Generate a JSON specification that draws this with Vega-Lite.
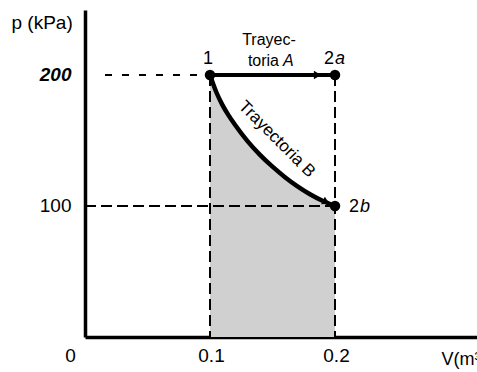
{
  "$schema": "https://vega.github.io/schema/vega-lite/v6.json",
  "width": 392,
  "height": 327,
  "autosize": {"type": "none"},
  "padding": {"left": 85, "top": 10, "right": 0, "bottom": 35},
  "background": "white",
  "config": {"view": {"stroke": null}, "font": "Liberation Sans"},
  "datasets": {
    "curveB": [
      {"V": 0.1, "p": 200}, {"V": 0.105, "p": 187}, {"V": 0.11, "p": 177},
      {"V": 0.115, "p": 169}, {"V": 0.12, "p": 162}, {"V": 0.13, "p": 149.5},
      {"V": 0.14, "p": 139}, {"V": 0.15, "p": 130}, {"V": 0.16, "p": 122},
      {"V": 0.17, "p": 115}, {"V": 0.18, "p": 109}, {"V": 0.19, "p": 104},
      {"V": 0.2, "p": 100}
    ],
    "dashShort": [{"V": 0.016, "V2": 0.1, "p": 200, "p2": 200}],
    "dashLong": [
      {"V": 0.0, "V2": 0.2, "p": 100, "p2": 100},
      {"V": 0.1, "V2": 0.1, "p": 200, "p2": 0},
      {"V": 0.2, "V2": 0.2, "p": 200, "p2": 0}
    ],
    "pathA": [{"V": 0.1, "V2": 0.2, "p": 200, "p2": 200}],
    "states": [
      {"V": 0.1, "p": 200, "state": "1"},
      {"V": 0.2, "p": 200, "state": "2a"},
      {"V": 0.2, "p": 100, "state": "2b"}
    ],
    "arrowA": [{"V": 0.186, "p": 200}],
    "arrowB": [{"V": 0.193, "p": 103}],
    "pointLabels": [
      {"V": 0.0984, "p": 212, "text": "1"}
    ],
    "rightLabels": [
      {"V": 0.1992, "p": 212, "text": "2"},
      {"V": 0.2192, "p": 99, "text": "2"}
    ],
    "italicLabels": [
      {"V": 0.2, "p": 212, "text": "a"},
      {"V": 0.22, "p": 99, "text": "b"}
    ],
    "pathATitle": [{"V": 0.1472, "p": 226.5, "text": "Trayec-"}],
    "pathATitle2": [{"V": 0.1552, "p": 211, "text": "toria"}],
    "pathATitle3": [{"V": 0.1584, "p": 211, "text": "A"}],
    "rotLabel": [{"V": 0.1535, "p": 151, "text": "Trayectoria B"}]
  },
  "encoding": {
    "x": {
      "field": "V",
      "type": "quantitative",
      "scale": {"domain": [0, 0.3136], "nice": false, "zero": false},
      "axis": {
        "values": [0, 0.1, 0.2],
        "labelExpr": "datum.value == 0 ? '0' : format(datum.value, '.1f')",
        "labelFontSize": 19,
        "labelColor": "black",
        "labelPadding": 9,
        "labelOffset": {"condition": {"test": "datum.value == 0", "value": -15}, "value": 1},
        "labelFlush": false,
        "ticks": false,
        "grid": false,
        "domainColor": "black",
        "domainWidth": 3.5,
        "title": "V(m³)",
        "titleFontSize": 18,
        "titleFontWeight": "normal",
        "titleColor": "black",
        "titleAlign": "left",
        "titleAnchor": null,
        "titleX": 356,
        "titleY": 27,
        "titleBaseline": "alphabetic"
      }
    },
    "y": {
      "field": "p",
      "type": "quantitative",
      "scale": {"domain": [0, 249.6], "nice": false},
      "axis": {
        "values": [100, 200],
        "labelFontSize": 19,
        "labelColor": "black",
        "labelFontWeight": {"condition": {"test": "datum.value == 200", "value": "bold"}, "value": "normal"},
        "labelFontStyle": {"condition": {"test": "datum.value == 200", "value": "italic"}, "value": "normal"},
        "labelPadding": 14,
        "ticks": false,
        "grid": false,
        "domainColor": "black",
        "domainWidth": 3.5,
        "title": "p (kPa)",
        "titleFontSize": 19,
        "titleFontWeight": "normal",
        "titleColor": "black",
        "titleAngle": 0,
        "titleAlign": "left",
        "titleAnchor": null,
        "titleX": -74,
        "titleY": 18,
        "titleBaseline": "alphabetic"
      }
    }
  },
  "layer": [
    {
      "data": {"name": "curveB"},
      "mark": {"type": "area", "color": "#d0d0d0", "interpolate": "monotone"},
      "encoding": {"y2": {"datum": 0}}
    },
    {
      "data": {"name": "dashShort"},
      "mark": {"type": "rule", "color": "black", "strokeWidth": 2, "strokeDash": [7, 10]},
      "encoding": {"x2": {"field": "V2"}, "y2": {"field": "p2"}}
    },
    {
      "data": {"name": "dashLong"},
      "mark": {"type": "rule", "color": "black", "strokeWidth": 2, "strokeDash": [11, 5]},
      "encoding": {"x2": {"field": "V2"}, "y2": {"field": "p2"}}
    },
    {
      "data": {"name": "curveB"},
      "mark": {"type": "line", "color": "black", "strokeWidth": 4.5, "interpolate": "monotone"},
      "encoding": {}
    },
    {
      "data": {"name": "pathA"},
      "mark": {"type": "rule", "color": "black", "strokeWidth": 4},
      "encoding": {"x2": {"field": "V2"}, "y2": {"field": "p2"}}
    },
    {
      "data": {"name": "states"},
      "mark": {"type": "point", "filled": true, "color": "black", "size": 110, "opacity": 1},
      "encoding": {}
    },
    {
      "data": {"name": "arrowA"},
      "mark": {"type": "point", "shape": "triangle-right", "filled": true, "color": "black", "size": 70, "opacity": 1},
      "encoding": {}
    },
    {
      "data": {"name": "arrowB"},
      "mark": {"type": "point", "shape": "triangle-right", "filled": true, "color": "black", "size": 70, "opacity": 1, "angle": 26},
      "encoding": {}
    },
    {
      "data": {"name": "pointLabels"},
      "mark": {"type": "text", "fontSize": 18, "align": "center", "baseline": "middle", "color": "black"},
      "encoding": {"text": {"field": "text"}}
    },
    {
      "data": {"name": "rightLabels"},
      "mark": {"type": "text", "fontSize": 18, "align": "right", "baseline": "middle", "color": "black"},
      "encoding": {"text": {"field": "text"}}
    },
    {
      "data": {"name": "italicLabels"},
      "mark": {"type": "text", "fontSize": 18, "fontStyle": "italic", "align": "left", "baseline": "middle", "color": "black"},
      "encoding": {"text": {"field": "text"}}
    },
    {
      "data": {"name": "pathATitle"},
      "mark": {"type": "text", "fontSize": 16, "align": "center", "baseline": "middle", "color": "black"},
      "encoding": {"text": {"field": "text"}}
    },
    {
      "data": {"name": "pathATitle2"},
      "mark": {"type": "text", "fontSize": 16, "align": "right", "baseline": "middle", "color": "black"},
      "encoding": {"text": {"field": "text"}}
    },
    {
      "data": {"name": "pathATitle3"},
      "mark": {"type": "text", "fontSize": 16, "fontStyle": "italic", "align": "left", "baseline": "middle", "color": "black"},
      "encoding": {"text": {"field": "text"}}
    },
    {
      "data": {"name": "rotLabel"},
      "mark": {"type": "text", "fontSize": 17, "angle": 45, "align": "center", "baseline": "middle", "color": "black"},
      "encoding": {"text": {"field": "text"}}
    }
  ]
}
